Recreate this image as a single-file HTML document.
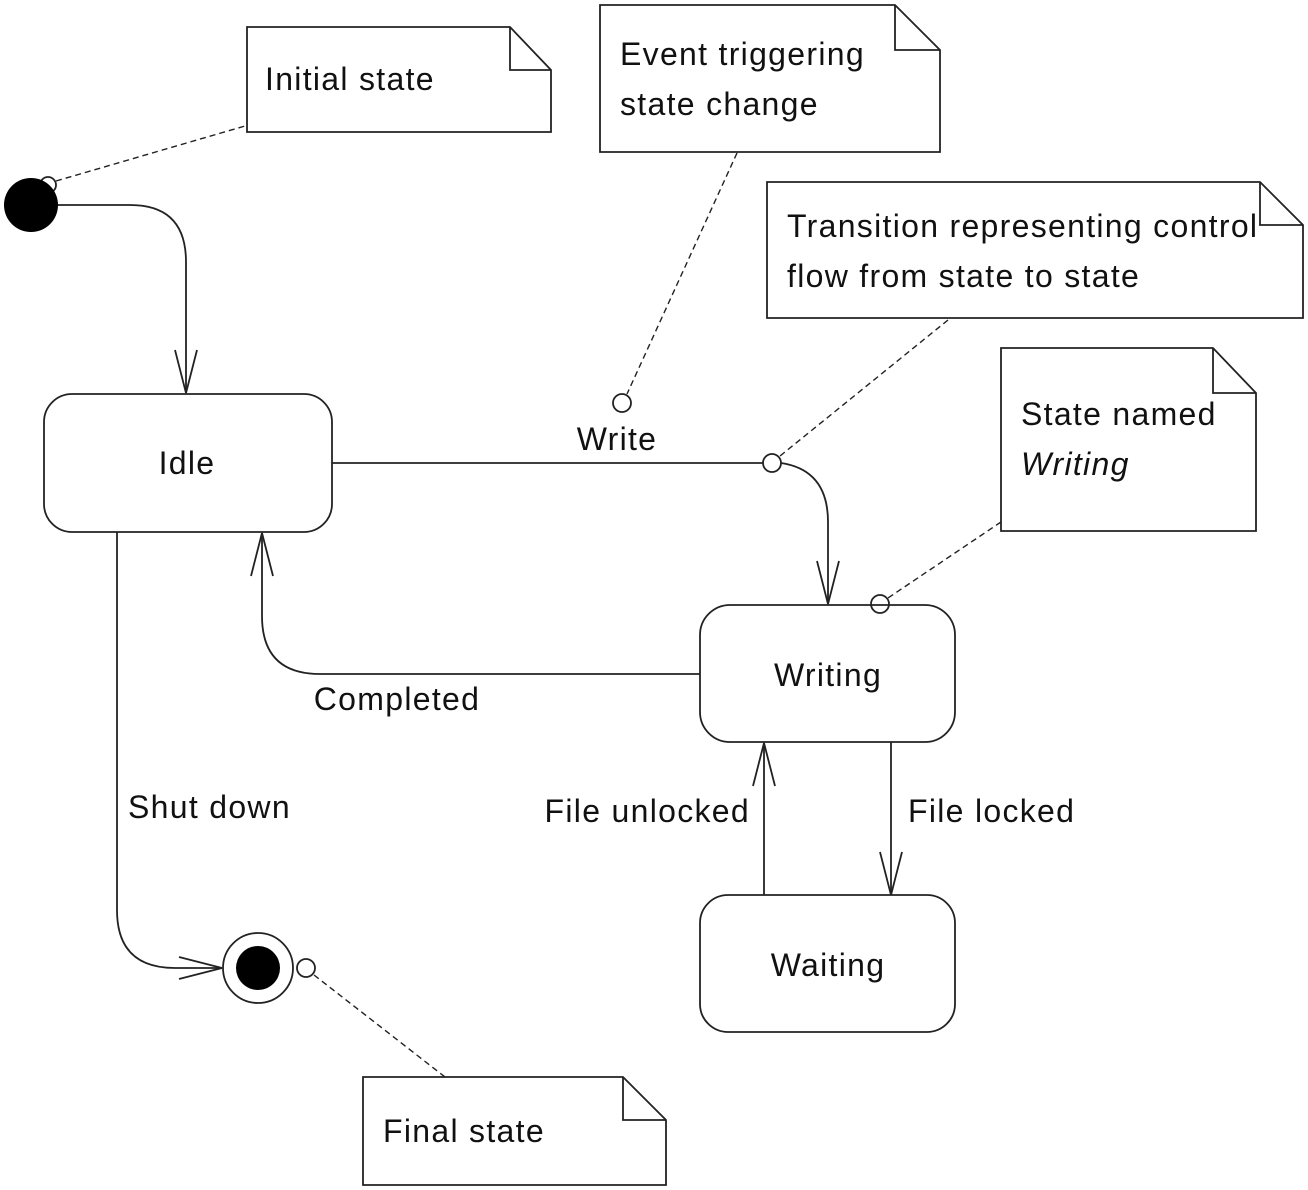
<!DOCTYPE html>
<html><head><meta charset="utf-8"><style>
html,body{margin:0;padding:0;background:#fff;}
svg{display:block;}
text{font-family:"Liberation Sans",sans-serif;font-size:32px;letter-spacing:1.3px;fill:#111;}
</style></head><body>
<svg width="1308" height="1190" viewBox="0 0 1308 1190" xmlns="http://www.w3.org/2000/svg">
<g fill="none" stroke="#222" stroke-width="1.8">
<path d="M247,27 H510 L551,70 V132 H247 Z M510,27 V70 H551"/>
<path d="M600,5 H895 L940,50 V152 H600 Z M895,5 V50 H940"/>
<path d="M767,182 H1260 L1303,225 V318 H767 Z M1260,182 V225 H1303"/>
<path d="M1001,348 H1213 L1256,393 V531 H1001 Z M1213,348 V393 H1256"/>
<path d="M363,1077 H623 L666,1120 V1185 H363 Z M623,1077 V1120 H666"/>
<rect x="44" y="394" width="288" height="138" rx="28"/>
<rect x="700" y="605" width="255" height="137" rx="30"/>
<rect x="700" y="895" width="255" height="137" rx="28"/>
<path d="M58,205 H130 Q186,205 186,262 V393"/>
<path d="M175,350 L186,393 L197,350"/>
<path d="M332,463 H763"/>
<path d="M781,463 Q828,470 828,522 V604"/>
<path d="M817,561 L828,604 L839,561"/>
<path d="M700,674 H320 Q262,674 262,616 V533"/>
<path d="M251,576 L262,533 L273,576"/>
<path d="M117,532 V910 Q117,968 175,968 H222"/>
<path d="M179,957 L222,968 L179,979"/>
<path d="M764,895 V743"/>
<path d="M753,786 L764,743 L775,786"/>
<path d="M891,742 V895"/>
<path d="M880,852 L891,895 L902,852"/>
<circle cx="258" cy="968" r="35"/>
<circle cx="48" cy="185" r="8"/>
<circle cx="622" cy="403" r="9"/>
<circle cx="772" cy="463" r="9"/>
<circle cx="880" cy="604" r="9"/>
<circle cx="306" cy="968" r="9"/>
</g>
<g fill="none" stroke="#222" stroke-width="1.4" stroke-dasharray="6,4">
<path d="M56,181 L245,126"/>
<path d="M737,153 L627,394"/>
<path d="M948,320 L780,456"/>
<path d="M1001,522 L888,598"/>
<path d="M314,975 L445,1077"/>
</g>
<circle cx="31" cy="205" r="27" fill="#000"/>
<circle cx="258" cy="968" r="22" fill="#000"/>
<text x="265" y="90">Initial state</text>
<text x="620" y="65">Event triggering</text>
<text x="620" y="115">state change</text>
<text x="787" y="237">Transition representing control</text>
<text x="787" y="287">flow from state to state</text>
<text x="1021" y="425">State named</text>
<text x="1021" y="475" font-style="italic">Writing</text>
<text x="383" y="1142">Final state</text>
<text x="187" y="474" text-anchor="middle">Idle</text>
<text x="828" y="686" text-anchor="middle">Writing</text>
<text x="828" y="976" text-anchor="middle">Waiting</text>
<text x="617" y="450" text-anchor="middle">Write</text>
<text x="397" y="710" text-anchor="middle">Completed</text>
<text x="128" y="818">Shut down</text>
<text x="750" y="822" text-anchor="end">File unlocked</text>
<text x="908" y="822">File locked</text>
</svg>
</body></html>
